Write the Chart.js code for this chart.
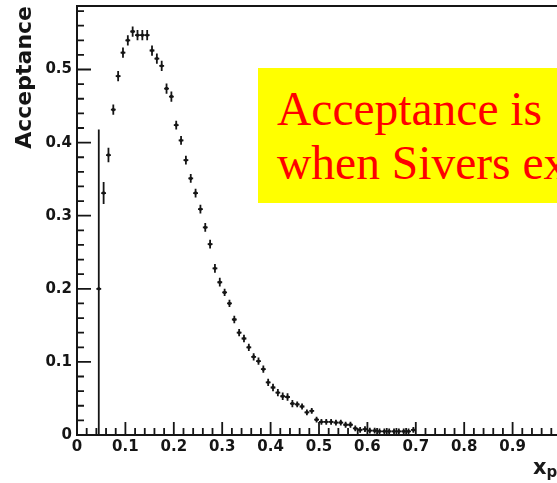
<!DOCTYPE html>
<html><head><meta charset="utf-8">
<script src="https://cdn.jsdelivr.net/npm/chart.js@4.4.1/dist/chart.umd.min.js"></script>
<style>
html,body{margin:0;padding:0;overflow:hidden;background:#fff;width:557px;height:483px;position:relative;}
#wrap{position:absolute;left:0;top:0;width:700px;height:483px;}
#note{position:absolute;left:258px;top:68px;width:420px;height:135px;background:#ffff00;color:#ff0000;font-family:"Liberation Serif","Times New Roman",serif;font-size:47.5px;line-height:54px;padding:14px 0 0 19px;box-sizing:border-box;white-space:nowrap;}
#xtitle{position:absolute;left:533px;top:457px;font-family:"DejaVu Sans",sans-serif;font-weight:bold;font-size:21px;line-height:21px;color:#1a1a1a;white-space:nowrap;}
#xtitle span{font-size:15px;vertical-align:-3px;}
</style></head><body>
<div id="wrap"><canvas id="c" width="700" height="483"></canvas></div>
<div id="note">Acceptance is<br>when Sivers ex</div>
<div id="xtitle">x<span>p</span></div>
<script>
const xCenters = [0.045,0.055,0.065,0.075,0.085,0.095,0.105,0.115,0.125,0.135,
  0.145,0.155,0.165,0.175,0.185,0.195,0.205,0.215,0.225,0.235,
  0.245,0.255,0.265,0.275,0.285,0.295,0.305,0.315,0.325,0.335,
  0.345,0.355,0.365,0.375,0.385,0.395,0.405,0.415,0.425,0.435,
  0.445,0.455,0.465,0.475,0.485,0.495,0.505,0.515,0.525,0.535,
  0.545,0.555,0.565,0.575,0.585,0.595,0.605,0.615,0.625,0.635,
  0.645,0.655,0.665,0.675,0.685,0.695];
const acceptance = [0.200,0.331,0.383,0.445,0.491,0.523,0.540,0.552,0.547,0.547,
  0.547,0.526,0.515,0.505,0.474,0.463,0.424,0.403,0.376,0.351,
  0.331,0.309,0.284,0.261,0.228,0.209,0.195,0.180,0.158,0.140,
  0.132,0.120,0.107,0.101,0.090,0.072,0.065,0.058,0.053,0.052,
  0.043,0.042,0.039,0.031,0.033,0.021,0.018,0.018,0.018,0.017,
  0.017,0.014,0.014,0.009,0.007,0.008,0.006,0.006,0.005,0.005,
  0.005,0.005,0.005,0.005,0.005,0.007];
const errors = [0.218,0.015,0.010,0.007,0.007,0.007,0.007,0.007,0.007,0.007,
  0.007,0.007,0.007,0.007,0.007,0.007,0.006,0.006,0.006,0.006,
  0.006,0.006,0.006,0.006,0.006,0.006,0.005,0.005,0.005,0.005,
  0.005,0.005,0.005,0.005,0.005,0.005,0.005,0.005,0.005,0.005,
  0.005,0.004,0.004,0.004,0.004,0.004,0.004,0.004,0.004,0.004,
  0.004,0.004,0.004,0.004,0.004,0.004,0.004,0.004,0.004,0.004,
  0.004,0.004,0.004,0.004,0.004,0.004];
const binHalfWidth = 0.005;
const xTicks = [0,0.1,0.2,0.3,0.4,0.5,0.6,0.7,0.8,0.9,1.0,1.1];
const xTickLabels = ['0','0.1','0.2','0.3','0.4','0.5','0.6','0.7','0.8','0.9','1','1.1'];
const yTicks = [0,0.1,0.2,0.3,0.4,0.5];
const yTickLabels = ['0','0.1','0.2','0.3','0.4','0.5'];
const yAxisTitle = 'Acceptance';

const points = xCenters.map((x,i)=>({x:x, y:acceptance[i]}));
const ink = '#151515';
const tickFont = {family:'DejaVu Sans', weight:'bold', size:15};

const errorBars = {
  id:'errorBars',
  beforeDatasetsDraw(chart){
    const {ctx, chartArea:a, scales:{x,y}} = chart;
    ctx.save();
    ctx.beginPath(); ctx.rect(a.left, a.top, a.right-a.left, a.bottom-a.top); ctx.clip();
    ctx.strokeStyle = ink; ctx.lineWidth = 1.8;
    xCenters.forEach((xv,i)=>{
      const yv = acceptance[i], e = errors[i];
      const px = x.getPixelForValue(xv), py = y.getPixelForValue(yv);
      ctx.beginPath();
      ctx.moveTo(x.getPixelForValue(xv-binHalfWidth), py);
      ctx.lineTo(x.getPixelForValue(xv+binHalfWidth), py);
      ctx.moveTo(px, y.getPixelForValue(yv-e));
      ctx.lineTo(px, y.getPixelForValue(yv+e));
      ctx.stroke();
    });
    ctx.restore();
  }
};

const frameTicks = {
  id:'frameTicks',
  afterDatasetsDraw(chart){
    const {ctx, chartArea:a, scales:{x,y}} = chart;
    ctx.save();
    ctx.strokeStyle = ink;
    ctx.lineWidth = 1.8;
    ctx.beginPath();
    for (let i=0;i<=55;i++){
      const px = x.getPixelForValue(i*0.02);
      const len = (i%5===0)?13:7;
      ctx.moveTo(px, a.bottom); ctx.lineTo(px, a.bottom-len);
    }
    for (let i=0;i<=29;i++){
      const py = y.getPixelForValue(i*0.02);
      const len = (i%5===0)?14:7;
      ctx.moveTo(a.left, py); ctx.lineTo(a.left+len, py);
    }
    ctx.stroke();
    ctx.lineWidth = 2;
    ctx.strokeRect(a.left, a.top, a.right-a.left, a.bottom-a.top);
    ctx.restore();
  }
};

new Chart(document.getElementById('c'), {
  type:'scatter',
  data:{datasets:[{data:points, pointRadius:1.7, pointBackgroundColor:ink, pointBorderWidth:0, showLine:false}]},
  options:{
    responsive:false, animation:false, devicePixelRatio:1,
    layout:{padding:{left:0, top:6, right:90.6, bottom:0}},
    plugins:{legend:{display:false}, tooltip:{enabled:false}},
    scales:{
      x:{type:'linear', min:0, max:1.1,
        grid:{display:false, drawTicks:false}, border:{display:false},
        afterBuildTicks:(s)=>{ s.ticks = xTicks.map(v=>({value:v})); },
        afterFit:(s)=>{ s.height = 48; s.paddingLeft = 0; s.paddingRight = 0; },
        ticks:{autoSkip:false, maxRotation:0, padding:3, color:ink, font:tickFont,
          callback:(v,i)=>xTickLabels[i]}
      },
      y:{type:'linear', min:0, max:0.5869,
        grid:{display:false, drawTicks:false}, border:{display:false},
        afterBuildTicks:(s)=>{ s.ticks = yTicks.map(v=>({value:v})); },
        afterFit:(s)=>{ s.width = 77; s.paddingTop = 0; s.paddingBottom = 0; },
        ticks:{autoSkip:false, padding:5, color:ink, font:tickFont,
          callback:(v,i)=>yTickLabels[i]},
        title:{display:true, text:yAxisTitle, align:'end', color:ink,
          font:{family:'DejaVu Sans', weight:'bold', size:22}, padding:{top:12, bottom:0}}
      }
    }
  },
  plugins:[errorBars, frameTicks]
});
</script>
</body></html>
